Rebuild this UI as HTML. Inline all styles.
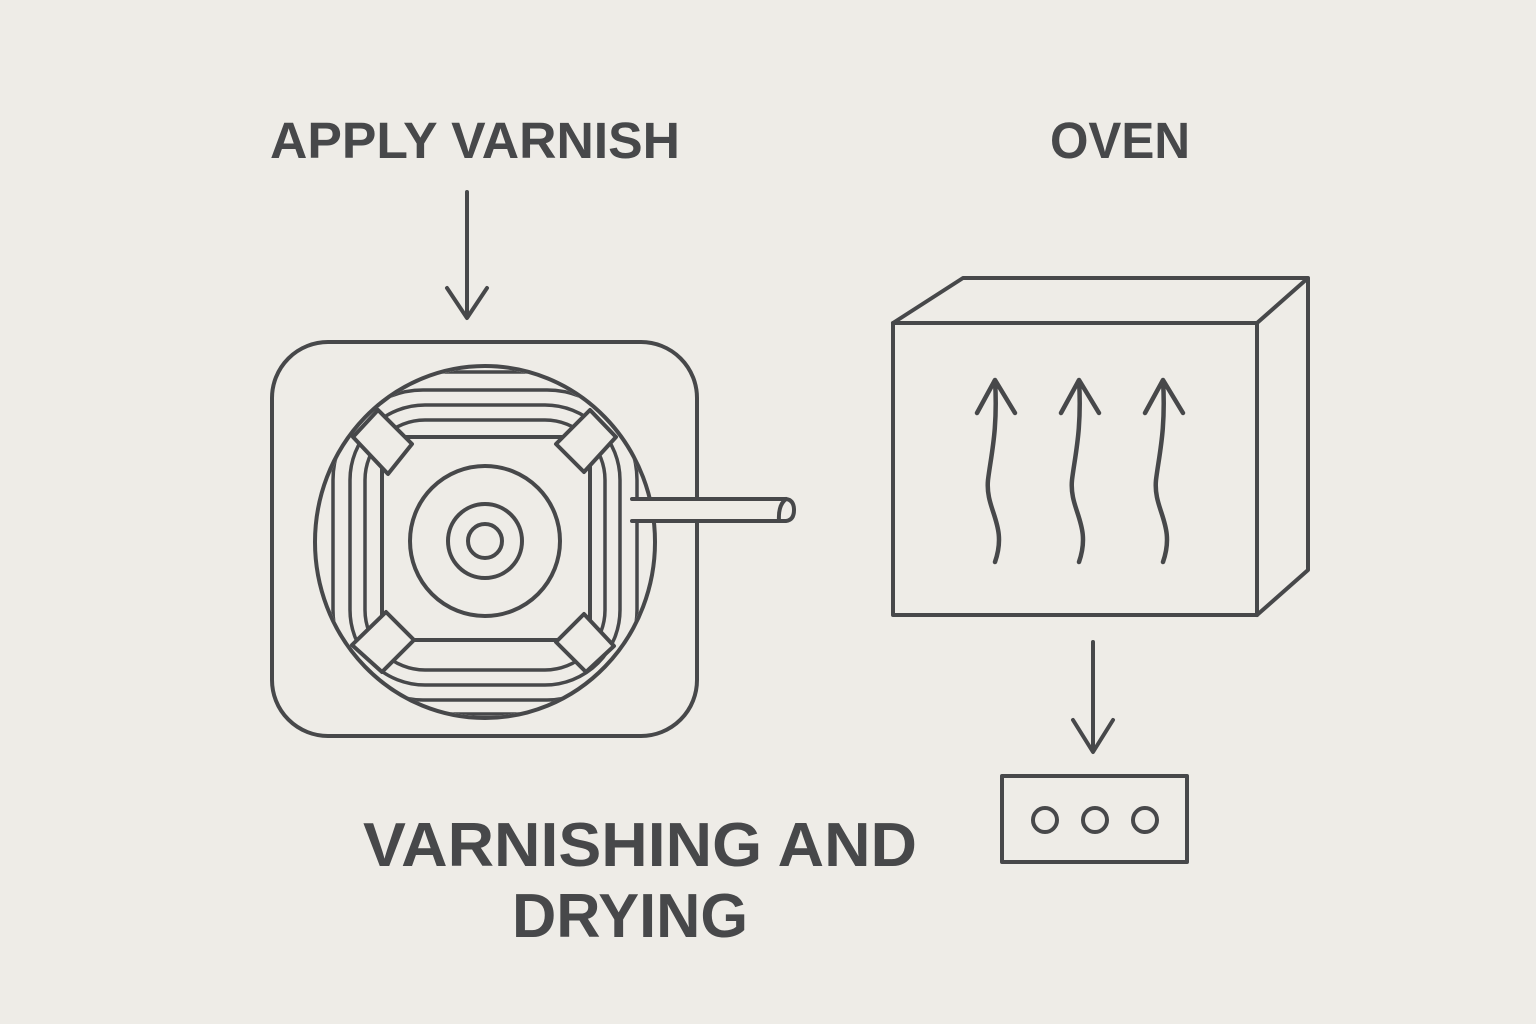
<!DOCTYPE html>
<html><head><style>
html,body{margin:0;padding:0;background:#eeece7;}
svg{display:block}
text{font-family:"Liberation Sans",sans-serif;font-weight:bold;fill:#47484a}
</style></head><body>
<svg width="1536" height="1024" viewBox="0 0 1536 1024" xmlns="http://www.w3.org/2000/svg">
<rect width="1536" height="1024" fill="#eeece7"/>
<g fill="none" stroke="#47484a" stroke-width="4" stroke-linecap="round" stroke-linejoin="round">
<text x="475" y="158" font-size="51" text-anchor="middle" stroke="none" textLength="410" lengthAdjust="spacingAndGlyphs">APPLY VARNISH</text>
<text x="1120" y="158" font-size="51" text-anchor="middle" stroke="none" textLength="140" lengthAdjust="spacingAndGlyphs">OVEN</text>
<text x="640" y="866" font-size="62" text-anchor="middle" stroke="none" textLength="554" lengthAdjust="spacingAndGlyphs">VARNISHING AND</text>
<text x="630" y="937" font-size="62" text-anchor="middle" stroke="none" textLength="236" lengthAdjust="spacingAndGlyphs">DRYING</text>
<path d="M467 192 V316 M447 288 L467 318 L487 288"/>
<rect x="272" y="342" width="425" height="394" rx="56"/>
<ellipse cx="485" cy="542" rx="170" ry="176"/>
<clipPath id="c"><ellipse cx="485" cy="542" rx="168" ry="174"/></clipPath>
<g clip-path="url(#c)" stroke-width="3.5">
<rect x="333" y="390" width="304" height="310" rx="90"/>
<rect x="350" y="405" width="270" height="280" rx="75"/>
<rect x="365" y="420" width="240" height="250" rx="60"/>
<rect x="300" y="372" width="370" height="342" rx="120"/>
</g>
<path d="M395 437 H575 L590 452 V625 L575 640 H395 L382 627 V452 Z" fill="#eeece7"/>
<g fill="#eeece7">
<path d="M353 437 L378 410 L412 444 L388 474 Z"/>
<path d="M556 444 L590 410 L616 437 L584 472 Z"/>
<path d="M352 645 L386 612 L414 640 L382 672 Z"/>
<path d="M556 642 L584 614 L614 646 L586 672 Z"/>
</g>
<circle cx="485" cy="541" r="75"/>
<circle cx="485" cy="541" r="37"/>
<circle cx="485" cy="541" r="17"/>
<path d="M632 499 H786 Q794 500 794 510 Q794 520 786 521 H632" fill="#eeece7"/>
<path d="M786 499 Q778 505 779 521"/>
<path d="M893 323 H1257 V615 H893 Z"/>
<path d="M893 323 L963 278 H1308 L1257 323 M1308 278 V570 L1257 615"/>
<g stroke-width="4.5">
<path d="M995 562 C1008 525 985 510 988 480 C991 455 998 430 995 380 M977 413 L995 380 L1015 413"/>
<path d="M1079 562 C1092 525 1069 510 1072 480 C1075 455 1082 430 1079 380 M1061 413 L1079 380 L1099 413"/>
<path d="M1163 562 C1176 525 1153 510 1156 480 C1159 455 1166 430 1163 380 M1145 413 L1163 380 L1183 413"/>
</g>
<path d="M1093 642 V750 M1073 720 L1093 752 L1113 720"/>
<rect x="1002" y="776" width="185" height="86"/>
<circle cx="1045" cy="820" r="12"/>
<circle cx="1095" cy="820" r="12"/>
<circle cx="1145" cy="820" r="12"/>
</g>
</svg>
</body></html>
